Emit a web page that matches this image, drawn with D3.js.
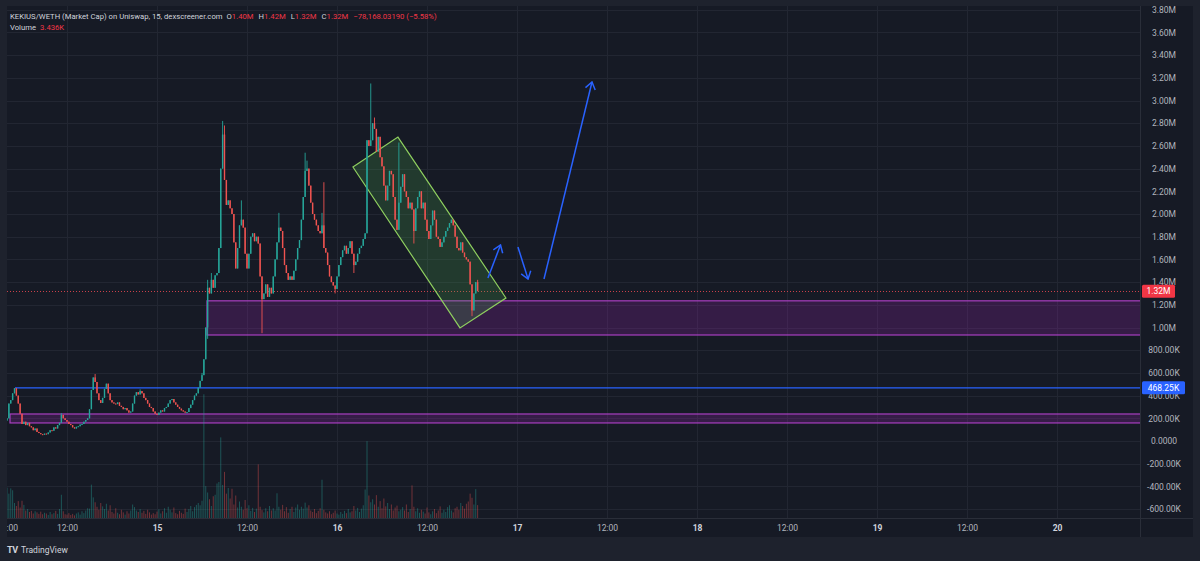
<!DOCTYPE html>
<html>
<head>
<meta charset="utf-8">
<script src="https://cdn.jsdelivr.net/npm/d3@7"></script>
<style>
html,body{margin:0;padding:0;background:#1e222d;}
svg{display:block;font-family:Roboto,"Liberation Sans",sans-serif;}
</style>
</head>
<body>
<svg id="chart" width="1200" height="561"></svg>
<script>
// KEKIUS/WETH market cap, 15 min candles, values in K
var barStart = Date.UTC(2024,11,14,4,0);
var barMinutes = 15;
var firstOpen = 180;
var closes = [
 200, 330, 360, 420, 465, 400, 330, 240, 150, 170, 140, 160,
 130, 120, 95, 110, 80, 70, 60, 55, 65, 60, 75, 95,
 90, 120, 110, 140, 160, 230, 200, 185, 170, 150, 140, 120,
 110, 125, 130, 145, 150, 170, 185, 200, 280, 450, 560, 520,
 420, 360, 335, 380, 460, 505, 420, 360, 340, 330, 325, 340,
 310, 300, 280, 290, 270, 250, 260, 330, 400, 430, 410, 440,
 420, 380, 360, 330, 300, 290, 260, 240, 230, 250, 270, 260,
 290, 300, 330, 360, 370, 340, 320, 300, 285, 270, 260, 250,
 255, 290, 320, 360, 400, 420, 470, 530, 580, 720, 1000, 1350,
 1300, 1420, 1350, 1460, 1480, 1700, 2400, 2700, 2300, 2080, 2120, 2050,
 2000, 1750, 1520, 1700, 1900, 1950, 1880, 1650, 1520, 1650, 1800, 1830,
 1760, 1800, 1740, 1450, 1250, 1300, 1380, 1270, 1350, 1300, 1450, 1600,
 1750, 1880, 1850, 1700, 1550, 1480, 1420, 1450, 1420, 1500, 1600, 1700,
 1770, 1950, 2150, 2380, 2400, 2250, 2100, 2000, 1950, 1900, 1850, 1830,
 1900, 1700, 1660, 1550, 1450, 1400, 1370, 1340, 1450, 1550, 1620, 1680,
 1720, 1650, 1700, 1760, 1650, 1550, 1580, 1650, 1700, 1720, 1780, 1830,
 2650, 2600, 2650, 2800, 2750, 2550, 2680, 2500, 2420, 2250, 2120, 2250,
 2380, 2350, 2150, 1950, 1860, 2100, 2240, 2350, 2200, 2150, 2050, 2100,
 2040, 1850, 2050, 2150, 2200, 2050, 2100, 1950, 1850, 1780, 1900, 2030,
 1950, 1800, 1780, 1710, 1750, 1800, 1850, 1880, 1920, 1950, 1900, 1800,
 1700, 1680, 1750, 1660, 1620, 1600, 1580, 1380, 1150, 1300, 1400, 1320
];
var volumes = [
 8.1, 6.5, 7.9, 7.4, 4.0, 3.2, 4.5, 2.8, 4.6, 3.5, 2.0, 2.4,
 1.6, 1.9, 1.2, 1.8, 1.5, 1.1, 1.7, 1.0, 1.4, 1.2, 0.8, 1.6,
 1.0, 1.3, 1.9, 1.1, 2.4, 6.2, 1.8, 1.0, 0.9, 1.3, 0.8, 1.1,
 0.7, 1.2, 1.5, 0.9, 1.8, 1.3, 2.0, 2.6, 2.5, 8.9, 5.5, 4.2,
 3.0, 2.2, 4.0, 3.1, 2.4, 3.8, 2.0, 3.4, 1.6, 1.2, 2.6, 1.4,
 1.0, 2.2, 1.5, 0.9, 1.8, 1.2, 2.0, 3.6, 2.9, 2.0, 1.6, 2.4,
 1.4, 1.9, 1.1, 2.2, 1.5, 0.9, 1.3, 1.0, 1.7, 2.3, 1.2, 1.8,
 2.6, 1.4, 3.0, 2.2, 1.5, 2.8, 1.3, 1.0, 1.9, 1.4, 1.1, 2.5,
 1.6, 2.4, 3.2, 1.8, 2.9, 3.5, 4.0, 3.4, 4.6, 33.0, 8.5, 6.8,
 5.0, 3.2, 5.8, 6.2, 9.2, 9.6, 21.5, 8.8, 12.3, 6.5, 8.0, 5.2,
 7.8, 3.6, 6.0, 2.8, 4.4, 3.0, 2.2, 4.8, 2.6, 3.4, 1.9, 2.7,
 1.6, 2.5, 14.3, 3.0, 2.1, 1.5, 2.6, 1.8, 3.2, 2.0, 2.6, 2.0,
 6.6, 3.0, 2.2, 3.5, 1.8, 2.9, 1.4, 2.4, 3.0, 1.6, 2.8, 3.6,
 2.2, 3.0, 2.5, 4.1, 2.8, 3.4, 2.0, 1.6, 2.4, 1.3, 1.9, 2.6,
 10.2, 2.2, 1.5, 1.2, 1.8, 1.0, 1.4, 2.0, 1.2, 0.9, 1.6, 1.1,
 1.9, 1.3, 2.4, 1.5, 1.8, 3.2, 2.0, 2.7, 1.6, 2.5, 3.4, 7.6,
 20.5, 6.0, 4.2, 5.0, 3.6, 6.1, 3.0, 4.5, 2.6, 5.2, 3.1, 4.0,
 2.4, 3.6, 2.0, 2.8, 3.3, 1.8, 2.2, 2.9, 2.0, 3.6, 1.6, 2.4,
 8.7, 3.0, 1.8, 2.6, 1.4, 2.2, 1.7, 1.2, 2.8, 1.5, 1.0, 1.8,
 2.4, 1.3, 2.0, 3.1, 1.4, 2.2, 1.6, 2.9, 3.4, 2.0, 1.5, 2.6,
 3.0, 2.2, 4.0, 3.2, 2.5, 3.8, 4.4, 6.5, 5.4, 3.6, 7.7, 3.436
];
// [bar index, high, low] where a wick sticks out
var wicks = [
 [29, 246, null], [47, 590, null], [71, 455, null], [104, 600, null],
 [107, 1420, 900], [109, 1480, null], [115, 2820, null], [116, 2780, null],
 [125, 2120, null], [136, null, 950], [145, 2010, null], [159, 2540, null],
 [160, 2470, null], [168, 2010, null], [169, 2280, null], [175, null, 1300],
 [185, null, 1480], [194, 3150, null], [196, 2850, null], [209, 2630, null],
 [217, null, 1740], [248, null, 1100], [251, 1420, 1320]
];

var priceTicks = [-600,-400,-200,0,200,400,600,800,1000,1200,1400,1600,1800,2000,2200,2400,2600,2800,3000,3200,3400,3600,3800];
var priceLabels = ["-600.00K","-400.00K","-200.00K","0.0000","200.00K","400.00K","600.00K","800.00K","1.00M","1.20M","1.40M","1.60M","1.80M","2.00M","2.20M","2.40M","2.60M","2.80M","3.00M","3.20M","3.40M","3.60M","3.80M"];
var timeTicks = [
 Date.UTC(2024,11,14,4), Date.UTC(2024,11,14,12), Date.UTC(2024,11,15,0), Date.UTC(2024,11,15,12),
 Date.UTC(2024,11,16,0), Date.UTC(2024,11,16,12), Date.UTC(2024,11,17,0), Date.UTC(2024,11,17,12),
 Date.UTC(2024,11,18,0), Date.UTC(2024,11,18,12), Date.UTC(2024,11,19,0), Date.UTC(2024,11,19,12),
 Date.UTC(2024,11,20,0)
];
var timeLabels = ["04:00","12:00","15","12:00","16","12:00","17","12:00","18","12:00","19","12:00","20"];

// drawings: zones [start time, top K, bottom K]
var zoneBoxes = [
 [Date.UTC(2024,11,15,6,40), 1235, 934],
 [Date.UTC(2024,11,14,4,24), 238, 159]
];
var blueLine = [Date.UTC(2024,11,14,5,4), 468.25];
var lastPrice = 1320;
// channel corners [bar index, K]
var channel = [[184.5, 2414], [208.5, 2678], [266.1, 1260], [241.6, 996]];
// arrows [[bar index, K] from, to]
var arrows = [
 [[256.5, 1436], [263.2, 1727]],
 [[272.5, 1709], [277.9, 1427]],
 [[286.4, 1427], [312.0, 3163]]
];

var W = 1200, H = 561;
var paneL = 7, paneR = 1140, axisR = 1193, paneT = 6, paneB = 518, timeB = 537;
var upColor = "#26a69a", downColor = "#ef5350";

var svg = d3.select("#chart");
svg.append("rect").attr("width", W).attr("height", H).attr("fill", "#1e222d");
svg.append("rect").attr("x", paneL).attr("y", paneT)
	.attr("width", axisR - paneL).attr("height", timeB - paneT).attr("fill", "#161a25");

var defs = svg.append("defs");
defs.append("clipPath").attr("id", "pane-clip").append("rect")
	.attr("x", paneL).attr("y", paneT).attr("width", paneR - paneL).attr("height", paneB - paneT);
defs.append("clipPath").attr("id", "time-clip").append("rect")
	.attr("x", paneL).attr("y", paneB).attr("width", axisR - paneL).attr("height", timeB - paneB);
defs.append("clipPath").attr("id", "axis-clip").append("rect")
	.attr("x", paneR).attr("y", paneT).attr("width", axisR - paneR).attr("height", paneB - paneT);
defs.append("marker").attr("id", "head")
	.attr("markerUnits", "userSpaceOnUse")
	.attr("viewBox", "0 0 12 12").attr("refX", 11).attr("refY", 6)
	.attr("markerWidth", 12).attr("markerHeight", 12).attr("orient", "auto")
	.append("path").attr("d", "M4,1 L11,6 L4,11")
	.attr("fill", "none").attr("stroke", "#2962ff").attr("stroke-width", 1.5);

var x = d3.scaleUtc()
	.domain([new Date(barStart), new Date(Date.UTC(2024,11,20,11,4))])
	.range([paneL, paneR]);
var y = d3.scaleLinear().domain([0, 1000]).range([441, 327.5]);
var yVol = d3.scaleLinear().domain([0, 40]).range([paneB, paneB - 150]);
function barX(i) { return x(new Date(barStart + i * barMinutes * 60000)); }

var bars = closes.map(function(c, i) {
	var o = i === 0 ? firstOpen : closes[i - 1];
	return {i: i, o: o, c: c, h: Math.max(o, c), l: Math.min(o, c), v: volumes[i]};
});
wicks.forEach(function(w) {
	var b = bars[w[0]];
	if (w[1] != null) b.h = Math.max(b.h, w[1]);
	if (w[2] != null) b.l = Math.min(b.l, w[2]);
});

// grid
var grid = svg.append("g").attr("clip-path", "url(#pane-clip)");
grid.selectAll("line.h").data(priceTicks).enter().append("line")
	.attr("x1", paneL).attr("x2", paneR)
	.attr("y1", function(d){ return Math.round(y(d)) + 0.5; })
	.attr("y2", function(d){ return Math.round(y(d)) + 0.5; })
	.attr("stroke", "#222632").attr("stroke-width", 1);
grid.selectAll("line.v").data(timeTicks.slice(1)).enter().append("line")
	.attr("y1", paneT).attr("y2", paneB)
	.attr("x1", function(d){ return Math.round(x(new Date(d))) + 0.5; })
	.attr("x2", function(d){ return Math.round(x(new Date(d))) + 0.5; })
	.attr("stroke", "#222632").attr("stroke-width", 1);

var plot = svg.append("g").attr("clip-path", "url(#pane-clip)");

// zones
plot.selectAll("rect.zone").data(zoneBoxes).enter().append("rect")
	.attr("class", "zone")
	.attr("x", function(d){ return x(new Date(d[0])); })
	.attr("y", function(d){ return y(d[1]); })
	.attr("width", function(d){ return paneR + 5 - x(new Date(d[0])); })
	.attr("height", function(d){ return y(d[2]) - y(d[1]); })
	.attr("fill", "rgba(156,39,176,0.24)")
	.attr("stroke", "#a83fc0").attr("stroke-width", 1.2);

// volume
plot.append("g").selectAll("rect").data(bars).enter().append("rect")
	.attr("x", function(d){ return barX(d.i) - 0.5; })
	.attr("width", 1)
	.attr("y", function(d){ return yVol(d.v); })
	.attr("height", function(d){ return paneB - yVol(d.v); })
	.attr("fill", function(d){ return d.c >= d.o ? "rgba(38,166,154,0.42)" : "rgba(239,83,80,0.42)"; });

// blue level
plot.append("line")
	.attr("x1", x(new Date(blueLine[0]))).attr("x2", paneR)
	.attr("y1", y(blueLine[1])).attr("y2", y(blueLine[1]))
	.attr("stroke", "#2962ff").attr("stroke-width", 1.3);

// price line
plot.append("line")
	.attr("x1", paneL).attr("x2", paneR)
	.attr("y1", Math.round(y(lastPrice)) + 0.5).attr("y2", Math.round(y(lastPrice)) + 0.5)
	.attr("stroke", "#c9404a").attr("stroke-width", 1).attr("stroke-dasharray", "1,2");

// channel
plot.append("path")
	.attr("d", "M" + channel.map(function(p){ return barX(p[0]) + "," + y(p[1]); }).join("L") + "Z")
	.attr("fill", "rgba(76,175,80,0.22)")
	.attr("stroke", "#8fcf5f").attr("stroke-width", 1.2);

// candles
var candle = plot.append("g").selectAll("g").data(bars).enter().append("g");
candle.append("line")
	.attr("x1", function(d){ return barX(d.i); })
	.attr("x2", function(d){ return barX(d.i); })
	.attr("y1", function(d){ return y(d.h); })
	.attr("y2", function(d){ return y(d.l); })
	.attr("stroke", function(d){ return d.c >= d.o ? upColor : downColor; })
	.attr("stroke-width", 0.9);
candle.append("rect")
	.attr("x", function(d){ return barX(d.i) - 0.7; })
	.attr("width", 1.4)
	.attr("y", function(d){ return y(Math.max(d.o, d.c)); })
	.attr("height", function(d){ return Math.max(1, Math.abs(y(d.o) - y(d.c))); })
	.attr("fill", function(d){ return d.c >= d.o ? upColor : downColor; });

// arrows
var arrowLine = d3.line().x(function(p){ return barX(p[0]); }).y(function(p){ return y(p[1]); });
plot.selectAll("path.arrow").data(arrows).enter().append("path")
	.attr("d", arrowLine)
	.attr("fill", "none").attr("stroke", "#2962ff").attr("stroke-width", 1.5)
	.attr("marker-end", "url(#head)");

// borders
svg.append("line").attr("x1", paneR + 0.5).attr("x2", paneR + 0.5).attr("y1", paneT).attr("y2", timeB)
	.attr("stroke", "#2a2e39");
svg.append("line").attr("x1", paneL).attr("x2", axisR).attr("y1", paneB + 0.5).attr("y2", paneB + 0.5)
	.attr("stroke", "#2a2e39");

// price axis
var yAxis = svg.append("g").attr("clip-path", "url(#axis-clip)")
	.append("g").attr("transform", "translate(" + paneR + ",0)")
	.call(d3.axisRight(y).tickValues(priceTicks).tickSize(0)
		.tickFormat(function(d, i){ return priceLabels[i]; }));
yAxis.select(".domain").remove();
yAxis.selectAll("text").attr("x", 24).attr("text-anchor", "middle")
	.attr("fill", "#b2b5be").style("font-size", "8.5px").style("font-family", "Roboto,'Liberation Sans',sans-serif");

// price badges
function badge(v, label, color, w) {
	var cy = y(v);
	svg.append("rect").attr("x", paneR + 2).attr("y", cy - 6.5).attr("width", w).attr("height", 13)
		.attr("rx", 1.5).attr("fill", color);
	svg.append("text").attr("x", paneR + 2 + w / 2).attr("y", cy + 3)
		.attr("text-anchor", "middle").attr("fill", "#ffffff")
		.style("font-size", "8.5px").text(label);
}
badge(lastPrice, "1.32M", "#f23645", 33);
badge(blueLine[1], "468.25K", "#2962ff", 43);

// time axis
var xAxis = svg.append("g").attr("clip-path", "url(#time-clip)")
	.append("g").attr("transform", "translate(0," + paneB + ")")
	.call(d3.axisBottom(x).tickValues(timeTicks.map(function(t){ return new Date(t); })).tickSize(0).tickPadding(7)
		.tickFormat(function(d, i){ return timeLabels[i]; }));
xAxis.select(".domain").remove();
xAxis.selectAll("text")
	.attr("fill", function(d, i){ return timeLabels[i].indexOf(":") < 0 ? "#d1d4dc" : "#b2b5be"; })
	.style("font-weight", function(d, i){ return timeLabels[i].indexOf(":") < 0 ? "bold" : "normal"; })
	.style("font-size", "8.5px").style("font-family", "Roboto,'Liberation Sans',sans-serif");

// legend
var legend = svg.append("text").attr("x", 10).attr("y", 18.5).style("font-size", "7.7px").attr("fill", "#d1d4dc");
legend.append("tspan").text("KEKIUS/WETH (Market Cap) on Uniswap, 15, dexscreener.com");
var ohlcNames = ["O", "H", "L", "C"];
var ohlcValues = ["1.40M", "1.42M", "1.32M", "1.32M"];
ohlcNames.forEach(function(n, i) {
	legend.append("tspan").attr("dx", i === 0 ? 4 : 5).attr("fill", "#d1d4dc").text(n);
	legend.append("tspan").attr("fill", "#f23645").text(ohlcValues[i]);
});
legend.append("tspan").attr("dx", 5).attr("fill", "#f23645").text("\u221278,168.03190 (\u22125.58%)");
var vol = svg.append("text").attr("x", 10).attr("y", 29.5).style("font-size", "7.7px");
vol.append("tspan").attr("fill", "#d1d4dc").text("Volume");
vol.append("tspan").attr("dx", 4).attr("fill", "#f23645").text("3.436K");

// footer logo
svg.append("text").attr("x", 7).attr("y", 553).attr("fill", "#d1d4dc")
	.style("font-size", "9px").style("font-weight", "bold").style("letter-spacing", "-0.5px").text("TV");
svg.append("text").attr("x", 21).attr("y", 553).attr("fill", "#d1d4dc")
	.style("font-size", "8.5px").text("TradingView");
</script>
</body>
</html>
